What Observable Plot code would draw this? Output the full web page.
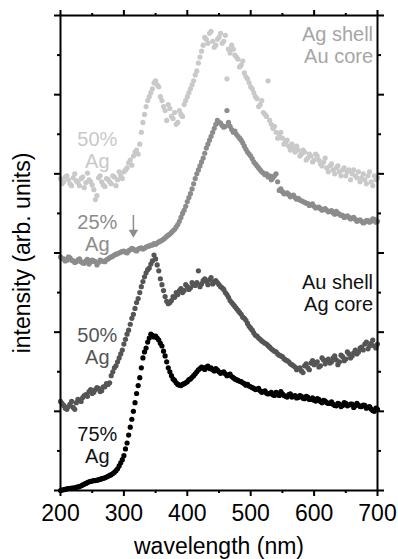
<!DOCTYPE html>
<html><head><meta charset="utf-8">
<script src="https://cdn.jsdelivr.net/npm/d3@7"></script>
<script src="https://cdn.jsdelivr.net/npm/@observablehq/plot@0.6"></script>
<style>body{margin:0;background:#fff;} svg{display:block;}</style>
</head><body><div id="chart"></div>
<script>
// Wavelength grid of the readings (nm)
const wavelength = [200,205,210,215,220,225,230,235,240,245,250,255,260,265,270,275,280,285,290,295,
300,305,310,315,320,325,330,335,340,345,350,355,360,365,370,375,380,385,390,395,
400,405,410,415,420,425,430,435,440,445,450,455,460,465,470,475,480,485,490,495,
500,505,510,515,520,525,530,535,540,545,550,555,560,565,570,575,580,585,590,595,
600,605,610,615,620,625,630,635,640,645,650,655,660,665,670,675,680,685,690,695,700];
// In-between readings (nm)
const wavelengthMid = [202.5,207.5,212.5,217.5,222.5,227.5,232.5,237.5,242.5,247.5,252.5,257.5,262.5,267.5,272.5,277.5,282.5,287.5,292.5,297.5,
302.5,307.5,312.5,317.5,322.5,327.5,332.5,337.5,342.5,347.5,352.5,357.5,362.5,367.5,372.5,377.5,382.5,387.5,392.5,397.5,
402.5,407.5,412.5,417.5,422.5,427.5,432.5,437.5,442.5,447.5,452.5,457.5,462.5,467.5,472.5,477.5,482.5,487.5,492.5,497.5,
502.5,507.5,512.5,517.5,522.5,527.5,532.5,537.5,542.5,547.5,552.5,557.5,562.5,567.5,572.5,577.5,582.5,587.5,592.5,597.5,
602.5,607.5,612.5,617.5,622.5,627.5,632.5,637.5,642.5,647.5,652.5,657.5,662.5,667.5,672.5,677.5,682.5,687.5,692.5,697.5];

// Ag shell / Au core, 50% Ag (light gray)
const agShell50 = [7.88,7.80,7.95,7.75,7.90,7.82,7.70,7.92,7.78,7.85,7.72,7.35,7.90,7.80,7.68,7.86,7.75,7.92,7.85,7.95,
8.05,8.15,8.35,8.45,8.60,8.75,9.30,9.70,9.95,10.15,10.35,10.20,9.85,9.60,9.75,9.45,9.55,9.30,9.50,9.75,
9.95,10.15,10.35,10.60,10.95,11.25,11.40,11.55,11.35,11.25,11.45,11.30,11.50,11.15,11.25,11.00,10.90,10.75,10.55,10.40,
10.20,10.05,9.90,9.75,9.55,9.45,9.35,9.15,9.05,8.95,8.90,8.80,8.70,8.75,8.55,8.60,8.50,8.55,8.40,8.45,
8.35,8.45,8.25,8.30,8.15,8.20,8.10,8.15,8.05,8.10,7.95,8.10,8.00,7.95,8.05,7.90,7.85,7.95,7.80,7.95,7.90];
const agShell50Mid = [7.75,7.92,7.85,7.70,8.00,7.78,7.88,7.65,8.02,7.80,7.60,7.45,7.95,7.72,7.88,7.80,7.95,7.70,8.05,7.88,
8.10,8.28,8.22,8.55,8.50,9.05,9.50,9.85,10.05,10.30,10.25,9.95,9.70,9.35,9.65,9.40,9.25,9.60,9.45,9.85,
10.05,10.25,10.50,10.80,11.10,11.45,11.30,11.60,11.20,11.40,11.55,11.35,10.40,11.05,11.15,10.95,10.70,10.85,10.45,10.30,
10.15,9.95,9.70,9.85,9.50,10.35,9.25,9.20,8.90,9.05,8.75,8.85,8.60,8.65,8.70,8.45,8.60,8.35,8.50,8.30,
8.50,8.35,8.20,8.40,8.05,8.25,8.00,8.20,7.95,8.15,8.05,7.85,8.10,7.90,7.80,8.00,7.75,8.05,7.70,7.85];

// Ag shell / Au core, 25% Ag (medium gray)
const agShell25 = [5.90,5.85,5.82,5.88,5.80,5.78,5.85,5.75,5.80,5.72,5.82,5.78,5.76,5.80,5.78,5.85,5.90,5.95,5.98,6.02,
6.05,6.00,6.08,6.10,6.05,6.12,6.10,6.15,6.18,6.20,6.22,6.28,6.32,6.38,6.45,6.52,6.60,6.72,6.90,7.08,
7.30,7.50,7.75,8.00,8.20,8.40,8.65,8.85,9.05,9.25,9.30,9.22,9.20,9.30,9.12,9.08,8.95,8.85,8.70,8.55,
8.45,8.30,8.20,8.10,8.02,8.00,7.95,7.90,8.00,7.58,7.55,7.50,7.48,7.45,7.40,7.38,7.32,7.28,7.25,7.22,
7.18,7.15,7.12,7.10,7.08,7.05,7.02,7.05,6.98,6.95,6.92,6.90,6.88,6.85,6.82,6.80,6.78,6.82,6.80,6.85,6.80];
const agShell25Mid = [5.86,5.80,5.90,5.82,5.76,5.83,5.78,5.74,5.84,5.77,5.80,5.70,5.82,5.79,5.83,5.88,5.92,5.97,6.00,6.04,
6.02,6.06,6.12,6.07,6.10,6.13,6.12,6.17,6.20,6.24,6.25,6.30,6.35,6.42,6.48,6.56,6.66,6.80,7.00,7.18,
7.40,7.62,7.88,8.10,8.30,8.52,8.75,8.95,9.15,9.35,9.28,9.18,9.60,9.20,9.05,9.00,8.90,8.78,8.62,8.50,
8.38,8.25,8.15,8.05,7.98,7.92,7.85,7.95,7.80,7.62,7.50,7.52,7.42,7.46,7.36,7.34,7.30,7.26,7.20,7.24,
7.14,7.16,7.08,7.12,7.04,7.07,6.98,7.00,6.95,6.90,6.94,6.86,6.90,6.80,6.84,6.76,6.82,6.78,6.86,6.78];

// Au shell / Ag core, 50% Ag (dark gray)
const auShell50 = [2.25,2.15,2.05,2.18,2.10,2.22,2.28,2.35,2.42,2.50,2.45,2.55,2.58,2.52,2.62,2.68,2.90,3.10,3.25,3.45,
3.70,3.95,4.20,4.45,4.75,5.00,5.28,5.50,5.62,5.80,5.85,5.55,5.20,4.90,4.72,4.80,4.88,4.95,5.10,5.05,
5.15,5.12,5.20,5.25,5.15,5.30,5.28,5.32,5.22,5.30,5.20,5.12,5.00,4.88,4.75,4.65,4.55,4.45,4.35,4.22,
4.10,3.98,3.90,3.82,3.75,3.70,3.62,3.55,3.50,3.42,3.38,3.30,3.25,3.18,3.12,3.08,3.02,3.15,3.10,3.22,
3.18,3.25,3.15,3.30,3.28,3.22,3.35,3.30,3.25,3.38,3.32,3.45,3.40,3.55,3.50,3.62,3.70,3.58,3.72,3.65,3.70];
const auShell50Mid = [2.20,2.08,2.12,2.25,2.05,2.30,2.25,2.40,2.38,2.55,2.48,2.60,2.50,2.62,2.70,2.72,3.00,3.15,3.35,3.55,
3.82,4.05,4.35,4.60,4.85,5.15,5.40,5.58,5.72,5.95,5.70,5.35,5.05,4.78,4.75,4.90,5.00,5.05,5.00,5.20,
5.08,5.25,5.18,5.55,5.22,5.35,5.20,5.38,5.28,5.25,5.15,5.08,4.95,4.80,4.70,4.60,4.50,4.38,4.30,4.15,
4.05,3.92,3.85,3.78,3.72,3.66,3.58,3.52,3.45,3.40,3.33,3.28,3.20,3.15,3.05,3.10,2.98,3.20,3.05,3.28,
3.22,3.12,3.35,3.20,3.32,3.25,3.40,3.18,3.42,3.28,3.50,3.35,3.48,3.45,3.60,3.55,3.75,3.65,3.80,3.60];

// Au shell / Ag core, 75% Ag (black)
const auShell75 = [0.00,0.02,0.04,0.05,0.06,0.08,0.10,0.14,0.18,0.22,0.24,0.25,0.27,0.30,0.32,0.36,0.40,0.46,0.55,0.70,
0.88,1.20,1.60,2.00,2.45,2.85,3.35,3.60,3.85,3.92,3.90,3.80,3.65,3.40,3.10,2.90,2.78,2.68,2.65,2.70,
2.75,2.82,2.90,3.00,3.08,3.10,3.12,3.08,3.05,3.08,3.00,2.98,2.95,2.92,2.88,2.82,2.78,2.75,2.70,2.68,
2.62,2.58,2.56,2.52,2.50,2.46,2.45,2.42,2.48,2.40,2.44,2.38,2.42,2.36,2.40,2.35,2.38,2.32,2.36,2.30,
2.28,2.32,2.25,2.28,2.22,2.20,2.18,2.14,2.18,2.15,2.20,2.16,2.18,2.14,2.16,2.12,2.15,2.10,2.06,2.00,2.05];
const auShell75Mid = [0.01,0.03,0.05,0.06,0.07,0.09,0.12,0.16,0.20,0.23,0.25,0.26,0.28,0.31,0.34,0.38,0.43,0.50,0.62,0.78,
1.05,1.40,1.80,2.22,2.65,3.10,3.50,3.75,3.95,3.88,3.85,3.72,3.52,3.25,3.00,2.82,2.72,2.66,2.68,2.72,
2.80,2.86,2.95,3.05,3.12,3.06,3.14,3.10,3.02,3.04,2.96,3.00,2.90,2.94,2.85,2.80,2.76,2.72,2.66,2.64,
2.60,2.55,2.58,2.48,2.52,2.44,2.48,2.40,2.45,2.50,2.40,2.36,2.44,2.38,2.34,2.40,2.33,2.38,2.30,2.34,
2.26,2.30,2.22,2.26,2.20,2.24,2.15,2.20,2.12,2.22,2.14,2.18,2.10,2.20,2.12,2.16,2.08,2.12,2.02,2.08];

const seriesNames = ["Ag shell 50% Ag", "Ag shell 25% Ag", "Au shell 50% Ag", "Au shell 75% Ag"];
const seriesColors = ["#c9c9c9", "#8c8c8c", "#555555", "#000000"];
const seriesValues = [agShell50, agShell25, auShell50, auShell75];
const seriesMidValues = [agShell50Mid, agShell25Mid, auShell50Mid, auShell75Mid];

const xTicks = [200, 300, 400, 500, 600, 700];
const xMinorTicks = [250, 350, 450, 550, 650];
const yTicks = [0, 2, 4, 6, 8, 10, 12];
const yMinorTicks = [1, 3, 5, 7, 9, 11];

const rows = [];
seriesNames.forEach((name, s) => {
  seriesValues[s].forEach((v, i) => rows.push({wavelength: wavelength[i], intensity: v, series: name}));
  seriesMidValues[s].forEach((v, i) => rows.push({wavelength: wavelengthMid[i], intensity: v, series: name}));
});

const centerLabels = [
  {text: "50%\nAg", color: "#c9c9c9", x: 258, y: 8.6},
  {text: "25%\nAg", color: "#8c8c8c", x: 258, y: 6.5},
  {text: "50%\nAg", color: "#555555", x: 258, y: 3.66},
  {text: "75%\nAg", color: "#111111", x: 258, y: 1.14}
];
const endLabels = [
  {text: "Ag shell\nAu core", color: "#a6a6a6", x: 693, y: 11.25},
  {text: "Au shell\nAg core", color: "#111111", x: 693, y: 4.98}
];

const blank = () => "";
const chart = Plot.plot({
  width: 398, height: 559,
  marginTop: 15, marginRight: 21, marginBottom: 69, marginLeft: 60,
  style: {fontFamily: "'Liberation Sans', Arial, Helvetica, sans-serif", background: "#fff", color: "#000"},
  x: {domain: [200, 700]},
  y: {domain: [0, 12]},
  color: {domain: seriesNames, range: seriesColors},
  marks: [
    Plot.dot(rows, {x: "wavelength", y: "intensity", fill: "series", r: 2.6}),
    Plot.text(centerLabels, {x: "x", y: "y", text: "text", fill: "color", fontSize: 20, lineHeight: 1.1, textAnchor: "middle"}),
    Plot.text(endLabels, {x: "x", y: "y", text: "text", fill: "color", fontSize: 20, lineHeight: 1.1, textAnchor: "end"}),
    Plot.ruleX([315], {y1: 6.95, y2: 6.55, stroke: "#8c8c8c", strokeWidth: 1.5}),
    Plot.dot([315], {x: d => d, y: () => 6.52, symbol: "triangle", rotate: 180, r: 3.5, fill: "#8c8c8c"}),
    Plot.frame({strokeWidth: 2}),
    Plot.axisX({anchor: "bottom", ticks: xTicks, tickSize: 6, tickPadding: 8, fontSize: 23, strokeWidth: 2}),
    Plot.axisX({anchor: "bottom", ticks: xMinorTicks, tickSize: 3, tickFormat: blank, strokeWidth: 2}),
    Plot.axisX({anchor: "top", ticks: xTicks, tickSize: 6, tickFormat: blank, strokeWidth: 2}),
    Plot.axisX({anchor: "top", ticks: xMinorTicks, tickSize: 3, tickFormat: blank, strokeWidth: 2}),
    Plot.axisY({anchor: "left", ticks: yTicks, tickSize: 6, tickFormat: blank, strokeWidth: 2}),
    Plot.axisY({anchor: "left", ticks: yMinorTicks, tickSize: 3, tickFormat: blank, strokeWidth: 2}),
    Plot.axisY({anchor: "right", ticks: yTicks, tickSize: 6, tickFormat: blank, strokeWidth: 2}),
    Plot.axisY({anchor: "right", ticks: yMinorTicks, tickSize: 3, tickFormat: blank, strokeWidth: 2}),
    Plot.text(["wavelength (nm)"], {frameAnchor: "bottom", dy: 56, lineAnchor: "middle", text: d => d, fontSize: 23}),
    Plot.text(["intensity (arb. units)"], {frameAnchor: "left", dx: -38, rotate: -90, textAnchor: "middle", lineAnchor: "middle", text: d => d, fontSize: 23})
  ]
});
document.getElementById("chart").appendChild(chart);
</script>
</body></html>
